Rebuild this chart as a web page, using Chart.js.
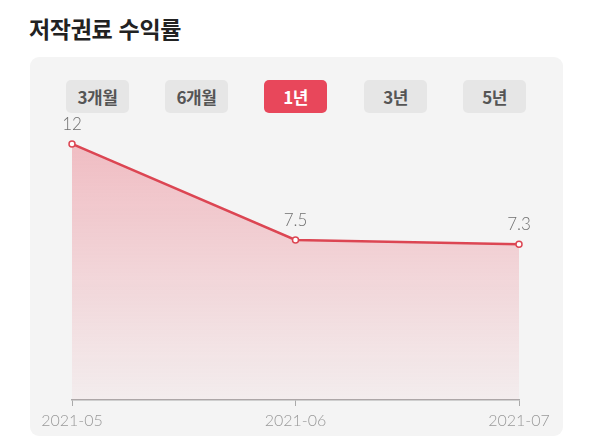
<!DOCTYPE html>
<html lang="ko">
<head>
<meta charset="utf-8">
<script src="https://cdn.jsdelivr.net/npm/chart.js@4"></script>
<style>
  html, body { margin: 0; padding: 0; background: #fff; }
  body { width: 590px; height: 439px; position: relative; overflow: hidden;
         font-family: "Noto Sans CJK KR", "Noto Sans", sans-serif; }
  .title { position: absolute; left: 29px; top: 11px; font-size: 23px; font-weight: 700;
           color: #222; letter-spacing: -0.3px; line-height: 34px; }
  .panel { position: absolute; left: 30px; top: 57px; width: 533px; height: 379px;
           background: #f4f4f4; border-radius: 9px; }
  .btn { position: absolute; top: 80px; width: 63px; height: 33px; border-radius: 5px;
         background: #e6e6e6; color: #555; font-size: 17px; font-weight: 700;
         text-align: center; line-height: 33px; letter-spacing: -0.5px; }
  .btn.on { background: #e8475b; color: #fff; }
  #wrap { position: absolute; left: 30px; top: 100px; width: 533px; height: 336px; }
</style>
</head>
<body>
<div class="title">저작권료 수익률</div>
<div class="panel"></div>
<div id="btns"></div>
<div id="wrap"><canvas id="yieldChart"></canvas></div>
<script>
  // ==== 데이터 ====
  const months  = ["2021-05", "2021-06", "2021-07"];
  const yields  = [12, 7.5, 7.3];
  const periods = ["3개월", "6개월", "1년", "3년", "5년"];
  const activePeriod = "1년";

  // ==== 기간 버튼 ====
  const btnLeft = [66, 165, 264, 364, 463];
  const btns = document.getElementById("btns");
  periods.forEach((p, i) => {
    const div = document.createElement("div");
    div.className = "btn" + (p === activePeriod ? " on" : "");
    div.style.left = btnLeft[i] + "px";
    div.textContent = p;
    btns.appendChild(div);
  });

  // 점 위에 값 표시
  const valueLabels = {
    id: "valueLabels",
    afterDatasetsDraw(chart) {
      const { ctx } = chart;
      const meta = chart.getDatasetMeta(0);
      ctx.save();
      ctx.font = "300 17px Lato, 'Noto Sans', sans-serif";
      ctx.fillStyle = "#6f6f6f";
      ctx.textAlign = "center";
      ctx.textBaseline = "bottom";
      meta.data.forEach((pt, i) => {
        ctx.fillText(String(yields[i]), pt.x, pt.y - 11);
      });
      ctx.restore();
    }
  };

  const ctx = document.getElementById("yieldChart").getContext("2d");
  new Chart(ctx, {
    type: "line",
    data: {
      labels: months,
      datasets: [{
        data: yields,
        borderColor: "#dc4653",
        borderWidth: 2.5,
        pointRadius: 3,
        pointBorderWidth: 1.5,
        pointBackgroundColor: "#fff",
        pointBorderColor: "#dc4653",
        tension: 0,
        fill: "origin",
        backgroundColor: (c) => {
          const area = c.chart.chartArea;
          if (!area) return "rgba(232,71,90,0.25)";
          const g = c.chart.ctx.createLinearGradient(0, area.top, 0, area.bottom);
          g.addColorStop(0, "rgba(232,71,90,0.36)");
          g.addColorStop(1, "rgba(232,71,90,0.04)");
          return g;
        }
      }]
    },
    options: {
      responsive: true,
      maintainAspectRatio: false,
      animation: false,
      layout: { padding: { left: 42, right: 44, top: 0, bottom: 0 } },
      plugins: { legend: { display: false }, tooltip: { enabled: false } },
      scales: {
        x: {
          offset: false,
          afterFit: (scale) => { scale.height = 36; },
          grid: { display: true, drawOnChartArea: false, drawTicks: true, tickLength: 6, color: "#aaa" },
          border: { color: "#aaa", width: 1.5 },
          ticks: { color: "#999", padding: 5, maxRotation: 0, font: { family: "Lato", size: 16, weight: 300 } }
        },
        y: { display: false, min: 0, max: 13.8 }
      }
    },
    plugins: [valueLabels]
  });
</script>
</body>
</html>
